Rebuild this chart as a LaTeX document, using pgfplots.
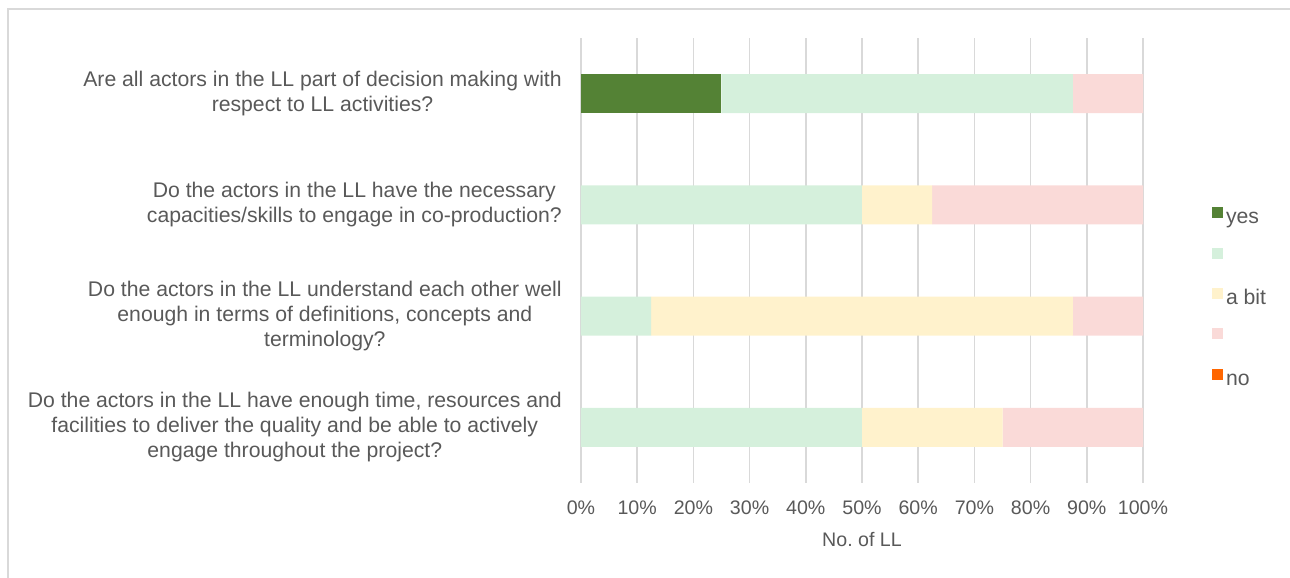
\documentclass[border=0pt]{standalone}
\usepackage{pgfplots}
\pgfplotsset{compat=1.18}
\usepackage{fontspec}
\setmainfont{Liberation Sans}
\frenchspacing
\definecolor{cyes}{HTML}{548235}
\definecolor{clg}{HTML}{D5F0DC}
\definecolor{cabit}{HTML}{FFF2CC}
\definecolor{cpink}{HTML}{FADAD8}
\definecolor{cno}{HTML}{FF6600}
\definecolor{gridc}{HTML}{D9D9D9}
\definecolor{txt}{HTML}{595959}
\begin{document}
\begin{tikzpicture}
\path[use as bounding box] (0pt,0pt) rectangle (967.5pt,433.5pt);
\draw[color=gridc, line width=1.5pt] (6pt,0pt) -- (6pt,426.75pt) -- (967.5pt,426.75pt);
\begin{axis}[
  at={(435.75pt,71.25pt)}, anchor=south west,
  scale only axis, width=421.5pt, height=333.75pt,
  xbar stacked, bar width=0.35,
  xmin=0, xmax=100, ymin=-0.5, ymax=3.5,
  xtick={0,10,...,100},
  xticklabel={\pgfmathprintnumber{\tick}\%},
  /pgf/number format/assume math mode=true,
  xticklabel style={anchor=north, inner sep=0pt, yshift=-13.5pt, font=\fontsize{14.7}{17}\selectfont, text=txt},
  ytick={0,1,2,3},
  yticklabels={
    {Do the actors in the LL have enough time, resources and\\facilities to deliver the quality and be able to actively\\engage throughout the project?},
    {Do the actors in the LL understand each other well\\enough in terms of definitions, concepts and\\terminology?},
    {Do the actors in the LL have the necessary \\capacities/skills to engage in co-production?},
    {Are all actors in the LL part of decision making with\\respect to LL activities?}},
  yticklabel style={align=center, anchor=east, inner sep=0pt, xshift=-14.25pt, font=\fontsize{15.9}{18.75}\selectfont, text=txt},
  xlabel={No. of LL},
  xlabel style={at={(axis description cs:0.5,0)}, anchor=base, inner sep=0pt, yshift=-47.6pt, font=\fontsize{14.7}{17}\selectfont, text=txt},
  axis line style={draw=none},
  tick style={draw=none},
  major tick length=0pt,
  xmajorgrids, grid style={color=gridc, line width=1.2pt},
  legend image code/.code={\fill[#1,draw=none] (0pt,0pt) rectangle (8.25pt,8.25pt); \path (10.5pt,0pt);},
  legend cell align=left,
  legend style={at={(1.1228,0.415)}, anchor=west, draw=none, fill=none, inner sep=0pt, outer sep=0pt,
    row sep=15pt, font=\fontsize{15.9}{17}\selectfont, text=txt,
    nodes={inner sep=0pt, text height=11pt, text depth=3pt}},
]
\addplot[fill=cyes, draw=none] coordinates {(0,0) (0,1) (0,2) (25,3)};
\addlegendentry{yes}
\addplot[fill=clg, draw=none] coordinates {(50,0) (12.5,1) (50,2) (62.5,3)};
\addlegendentry{}
\addplot[fill=cabit, draw=none] coordinates {(25,0) (75,1) (12.5,2) (0,3)};
\addlegendentry{a bit}
\addplot[fill=cpink, draw=none] coordinates {(25,0) (12.5,1) (37.5,2) (12.5,3)};
\addlegendentry{}
\addplot[fill=cno, draw=none] coordinates {(0,0) (0,1) (0,2) (0,3)};
\addlegendentry{no}
\end{axis}
\end{tikzpicture}
\end{document}
